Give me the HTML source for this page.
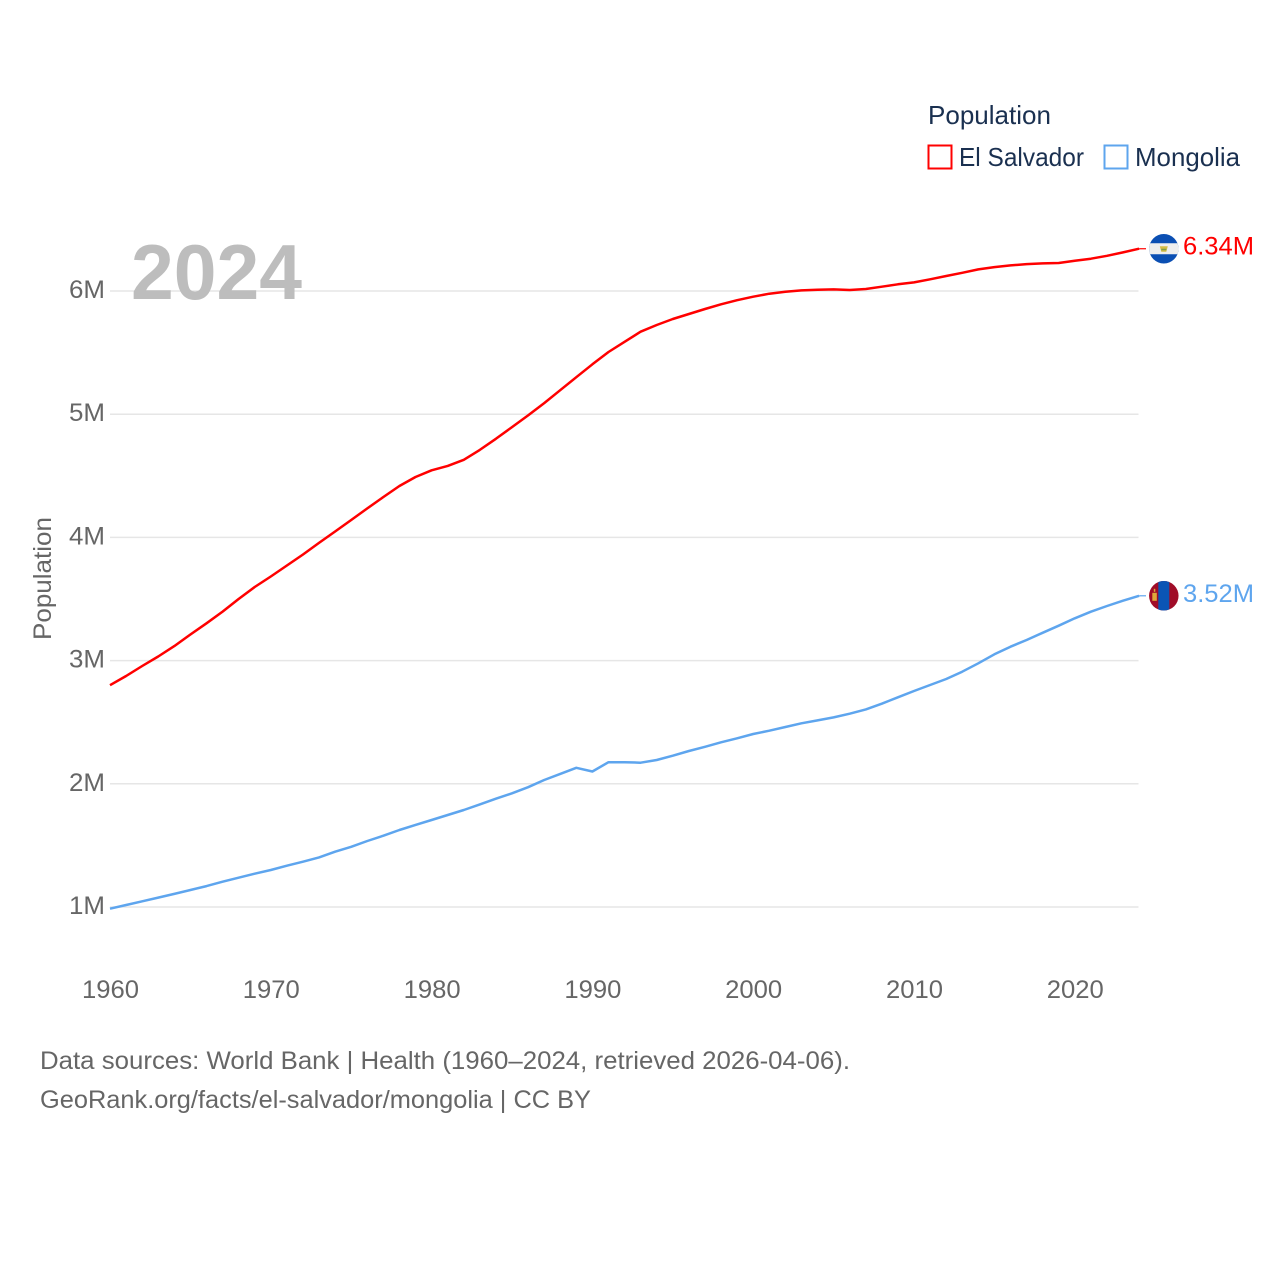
<!DOCTYPE html>
<html lang="en">
<head>
<meta charset="utf-8">
<title>Population: El Salvador and Mongolia</title>
<style>
html,body{margin:0;padding:0;background:#fff}
svg{display:block}
text{font-family:"Liberation Sans",sans-serif}
</style>
</head>
<body>
<svg id="chart" xmlns="http://www.w3.org/2000/svg" width="1280" height="1280" viewBox="0 0 1280 1280">
  <defs>
    <clipPath id="flag-clip"><circle cx="0" cy="0" r="14.75"/></clipPath>
  </defs>
  <g id="grid"></g>
  <g id="y-ticks"></g>
  <g id="x-ticks"></g>
  <text x="131" y="299" font-size="78" font-weight="700" fill="#bdbdbd" textLength="171" lengthAdjust="spacingAndGlyphs">2024</text>
  <text transform="translate(51,640) rotate(-90)" font-size="25" fill="#666666" textLength="123" lengthAdjust="spacingAndGlyphs">Population</text>
  <g id="series"></g>
  <g>
    <text x="928" y="124" font-size="26" fill="#1a3050" textLength="123" lengthAdjust="spacingAndGlyphs">Population</text>
    <rect x="928.500" y="145.500" width="23" height="23" fill="#fff" stroke="#ff0000" stroke-width="2"/>
    <text x="959" y="166" font-size="26" fill="#1a3050" textLength="125" lengthAdjust="spacingAndGlyphs">El Salvador</text>
    <rect x="1104.500" y="145.500" width="23" height="23" fill="#fff" stroke="#5ea5ee" stroke-width="2"/>
    <text x="1135" y="166" font-size="26" fill="#1a3050" textLength="105" lengthAdjust="spacingAndGlyphs">Mongolia</text>
  </g>
  <g id="flag-sv">
    <g clip-path="url(#flag-clip)">
      <rect x="-16" y="-16" width="32" height="32" fill="#0b4fb3"/>
      <rect x="-16" y="-5.500" width="32" height="11" fill="#eeeeee"/>
      <path d="M-4,-2.500 L4,-2.500 L2.500,3 L-2.500,3 Z" fill="#d4bc45"/>
      <rect x="-2.500" y="0" width="5" height="1.500" fill="#7f9f45"/>
    </g>
  </g>
  <g id="flag-mn">
    <g clip-path="url(#flag-clip)">
      <rect x="-16" y="-16" width="32" height="32" fill="#a00d28"/>
      <rect x="-5.500" y="-16" width="11" height="32" fill="#0b55b5"/>
      <rect x="-11.500" y="-3" width="4.500" height="8" fill="#e0a93a"/>
      <rect x="-10" y="-7" width="1.500" height="3" fill="#e0a93a"/>
    </g>
  </g>
  <g id="end-labels"></g>
  <g>
    <text x="40" y="1069" font-size="25" fill="#666666" textLength="810" lengthAdjust="spacingAndGlyphs">Data sources: World Bank | Health (1960–2024, retrieved 2026-04-06).</text>
    <text x="40" y="1108" font-size="25" fill="#666666" textLength="551" lengthAdjust="spacingAndGlyphs">GeoRank.org/facts/el-salvador/mongolia | CC BY</text>
  </g>
</svg>
<script>
const years = [1960,1961,1962,1963,1964,1965,1966,1967,1968,1969,1970,1971,1972,1973,1974,1975,1976,1977,1978,1979,1980,1981,1982,1983,1984,1985,1986,1987,1988,1989,1990,1991,1992,1993,1994,1995,1996,1997,1998,1999,2000,2001,2002,2003,2004,2005,2006,2007,2008,2009,2010,2011,2012,2013,2014,2015,2016,2017,2018,2019,2020,2021,2022,2023,2024];
const elSalvador = [2.80,2.875,2.956,3.033,3.118,3.212,3.303,3.398,3.50,3.597,3.683,3.772,3.861,3.955,4.048,4.141,4.235,4.328,4.417,4.49,4.545,4.58,4.63,4.71,4.80,4.895,4.99,5.09,5.195,5.30,5.405,5.505,5.588,5.67,5.724,5.773,5.813,5.854,5.892,5.925,5.954,5.978,5.994,6.005,6.01,6.013,6.008,6.016,6.035,6.054,6.07,6.095,6.122,6.148,6.175,6.194,6.208,6.218,6.224,6.227,6.245,6.262,6.286,6.313,6.343];
const mongolia = [0.986,1.016,1.046,1.076,1.106,1.138,1.17,1.205,1.238,1.27,1.30,1.335,1.368,1.403,1.449,1.489,1.536,1.579,1.625,1.666,1.706,1.747,1.787,1.833,1.879,1.923,1.972,2.031,2.08,2.13,2.10,2.175,2.175,2.171,2.193,2.228,2.266,2.30,2.337,2.369,2.404,2.431,2.461,2.491,2.515,2.539,2.569,2.604,2.65,2.702,2.753,2.802,2.851,2.91,2.978,3.051,3.113,3.167,3.226,3.283,3.343,3.397,3.443,3.486,3.526];
const yTicks = [1,2,3,4,5,6];
const xTicks = [1960,1970,1980,1990,2000,2010,2020];
const endLabels = ["6.34M","3.52M"];

const NS = "http://www.w3.org/2000/svg";
const xScale = function (year) { return 110 + (year - 1960) * 16.08; };
const yScale = function (value) { return 907 - (value - 1) * 123.2; };
const plotRight = 1138.5;
const flagX = 1163.8;

function make(tag, parent) {
  const el = document.createElementNS(NS, tag);
  parent.appendChild(el);
  return el;
}

const grid = document.getElementById("grid");
const yTickGroup = document.getElementById("y-ticks");
yTicks.forEach(function (tick) {
  const line = make("line", grid);
  
  
  line.setAttribute("x1", 110);
  line.setAttribute("x2", plotRight);
  line.setAttribute("y1", yScale(tick));
  line.setAttribute("y2", yScale(tick));
  line.setAttribute("stroke", "#e6e6e6");
  line.setAttribute("stroke-width", "1.5");
  const label = make("text", yTickGroup);
  
  
  label.setAttribute("x", 105);
  label.setAttribute("y", yScale(tick) + 7);
  label.setAttribute("text-anchor", "end");
  label.setAttribute("font-size", "25");
  label.setAttribute("fill", "#666666");
  label.setAttribute("textLength", "36");
  label.setAttribute("lengthAdjust", "spacingAndGlyphs");
  label.textContent = tick + "M";
});

const xTickGroup = document.getElementById("x-ticks");
xTicks.forEach(function (tick) {
  const label = make("text", xTickGroup);
  
  
  label.setAttribute("x", xScale(tick) + 0.5);
  label.setAttribute("y", 998);
  label.setAttribute("text-anchor", "middle");
  label.setAttribute("font-size", "25");
  label.setAttribute("fill", "#666666");
  label.setAttribute("textLength", "57");
  label.setAttribute("lengthAdjust", "spacingAndGlyphs");
  label.textContent = tick;
});

function linePoints(values) {
  return values.map(function (v, i) {
    return xScale(years[i]).toFixed(1) + "," + yScale(v).toFixed(1);
  }).join(" ");
}

const seriesGroup = document.getElementById("series");
const redLine = make("polyline", seriesGroup);


redLine.setAttribute("points", linePoints(elSalvador));
redLine.setAttribute("fill", "none");
redLine.setAttribute("stroke", "#ff0000");
redLine.setAttribute("stroke-width", "2.5");
redLine.setAttribute("stroke-linejoin", "round");

const blueLine = make("polyline", seriesGroup);


blueLine.setAttribute("points", linePoints(mongolia));
blueLine.setAttribute("fill", "none");
blueLine.setAttribute("stroke", "#5ea5ee");
blueLine.setAttribute("stroke-width", "2.5");
blueLine.setAttribute("stroke-linejoin", "round");

const lastYear = years[years.length - 1];
const redEnd = yScale(elSalvador[elSalvador.length - 1]);
const blueEnd = yScale(mongolia[mongolia.length - 1]);

const redConnector = make("line", seriesGroup);


redConnector.setAttribute("x1", xScale(lastYear));
redConnector.setAttribute("x2", 1146);
redConnector.setAttribute("y1", redEnd);
redConnector.setAttribute("y2", redEnd);
redConnector.setAttribute("stroke", "#ff0000");
redConnector.setAttribute("stroke-width", "1.2");

const blueConnector = make("line", seriesGroup);


blueConnector.setAttribute("x1", xScale(lastYear));
blueConnector.setAttribute("x2", 1146);
blueConnector.setAttribute("y1", blueEnd);
blueConnector.setAttribute("y2", blueEnd);
blueConnector.setAttribute("stroke", "#5ea5ee");
blueConnector.setAttribute("stroke-width", "1.2");

document.getElementById("flag-sv").setAttribute("transform", "translate(" + flagX + "," + redEnd + ")");
document.getElementById("flag-mn").setAttribute("transform", "translate(" + flagX + "," + blueEnd + ")");

const endGroup = document.getElementById("end-labels");
const redLabel = make("text", endGroup);


redLabel.setAttribute("x", 1183);
redLabel.setAttribute("y", redEnd + 6);
redLabel.setAttribute("font-size", "25");
redLabel.setAttribute("fill", "#ff0000");
redLabel.setAttribute("textLength", "71");
redLabel.setAttribute("lengthAdjust", "spacingAndGlyphs");
redLabel.textContent = endLabels[0];

const blueLabel = make("text", endGroup);


blueLabel.setAttribute("x", 1183);
blueLabel.setAttribute("y", blueEnd + 6);
blueLabel.setAttribute("font-size", "25");
blueLabel.setAttribute("fill", "#5ea5ee");
blueLabel.setAttribute("textLength", "71");
blueLabel.setAttribute("lengthAdjust", "spacingAndGlyphs");
blueLabel.textContent = endLabels[1];
</script>
</body>
</html>
